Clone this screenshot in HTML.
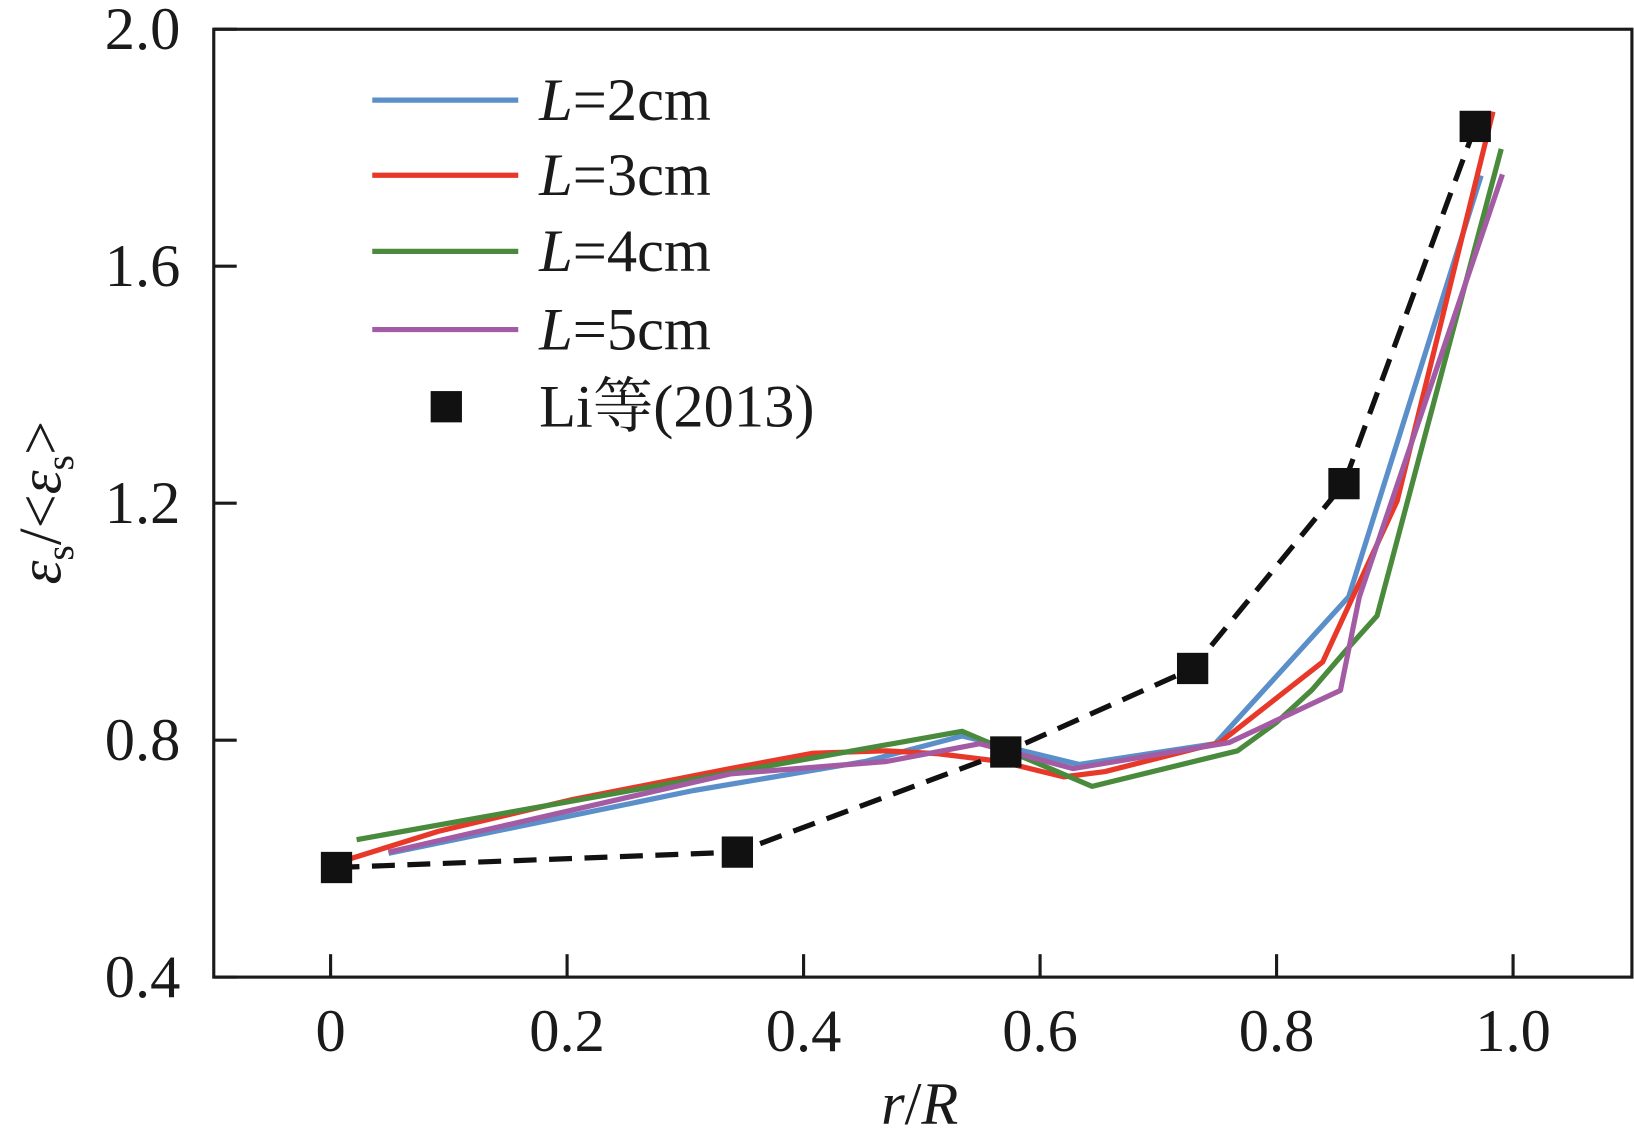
<!DOCTYPE html>
<html><head><meta charset="utf-8"><style>
html,body{margin:0;padding:0;background:#fff;}
svg{display:block;}
text{font-family:"Liberation Serif","Noto Serif CJK SC",serif;fill:#1a1a1a;}
</style></head><body>
<svg id="chart" width="1634" height="1144" viewBox="0 0 1567 1097">
<g id="plot"></g>
</svg>
<script>
const xTicks=[0,0.2,0.4,0.6,0.8,1.0];
const xTickLabels=["0","0.2","0.4","0.6","0.8","1.0"];
const yTicks=[0.4,0.8,1.2,1.6,2.0];
const yTickLabels=["0.4","0.8","1.2","1.6","2.0"];
const seriesNames=["L=2cm","L=3cm","L=4cm","L=5cm"];
const seriesColors=["#5b8fc9","#e8382a","#4a8a3c","#a35ca3"];
const l2x=[0.049,0.307,0.452,0.534,0.633,0.748,0.861,0.973];
const l2y=[0.609,0.715,0.764,0.807,0.759,0.794,1.042,1.753];
const l3x=[0.004,0.091,0.205,0.338,0.408,0.47,0.514,0.567,0.62,0.655,0.752,0.839,0.902,0.983];
const l3y=[0.592,0.646,0.70,0.752,0.778,0.782,0.777,0.764,0.738,0.747,0.796,0.932,1.204,1.861];
const l4x=[0.022,0.534,0.644,0.767,0.8,0.83,0.858,0.885,0.99];
const l4y=[0.632,0.815,0.722,0.782,0.83,0.885,0.95,1.01,1.798];
const l5x=[0.049,0.338,0.47,0.549,0.628,0.76,0.854,0.87,0.991];
const l5y=[0.611,0.743,0.764,0.794,0.752,0.796,0.884,1.042,1.755];
const liX=[0.005,0.344,0.571,0.729,0.857,0.968];
const liY=[0.585,0.611,0.780,0.921,1.233,1.836];

const NS="http://www.w3.org/2000/svg";
const g=document.getElementById('plot');
const L=205,R=1565,T=28,B=937;
const X0=-0.0988,X1=1.1005,Y0=0.4,Y1=2.0;
const sx=v=>L+(v-X0)/(X1-X0)*(R-L);
const sy=v=>B-(v-Y0)/(Y1-Y0)*(B-T);
function mk(tag,attrs){const e=document.createElementNS(NS,tag);for(const k in attrs)e.setAttribute(k,attrs[k]);g.appendChild(e);return e;}

const frame=mk('rect',{x:L,y:T,width:R-L,height:B-T,fill:'none',stroke:'#1a1a1a','stroke-width':3});


xTicks.forEach((v,i)=>{
  const t=mk('line',{x1:sx(v),x2:sx(v),y1:B,y2:B-22,stroke:'#1a1a1a','stroke-width':3});
  
  
  const tx=mk('text',{x:sx(v),y:1008,'font-size':58,'text-anchor':'middle'});
  tx.textContent=xTickLabels[i];
  
  
});
yTicks.forEach((v,i)=>{
  const t=mk('line',{x1:L,x2:L+22,y1:sy(v),y2:sy(v),stroke:'#1a1a1a','stroke-width':3});
  
  
  const tx=mk('text',{x:173,y:sy(v)+19,'font-size':58,'text-anchor':'end'});
  tx.textContent=yTickLabels[i];
  
  
});
const xl=mk('text',{x:882,y:1078,'font-size':58,'text-anchor':'middle'});
xl.innerHTML='<tspan font-style="italic">r</tspan>/<tspan font-style="italic">R</tspan>';


const yl=mk('text',{x:0,y:0,'font-size':58,'text-anchor':'middle',transform:'translate(58,482) rotate(-90)'});
yl.innerHTML='<tspan font-style="italic">ε</tspan><tspan font-size="38" dy="12">s</tspan><tspan dy="-12">/&lt;</tspan><tspan font-style="italic">ε</tspan><tspan font-size="38" dy="12">s</tspan><tspan dy="-12">&gt;</tspan>';



const xs=[l2x,l3x,l4x,l5x],ys=[l2y,l3y,l4y,l5y];
xs.forEach((arr,s)=>{
  const pts=arr.map((v,i)=>sx(v)+','+sy(ys[s][i])).join(' ');
  const p=mk('polyline',{points:pts,fill:'none',stroke:seriesColors[s],'stroke-width':5,'stroke-linejoin':'round'});
  
  
});
const dp=mk('polyline',{points:liX.map((v,i)=>sx(v)+','+sy(liY[i])).join(' '),fill:'none',stroke:'#111','stroke-width':5,'stroke-dasharray':'22,12'});


liX.forEach((v,i)=>{
  const r=mk('rect',{x:sx(v)-15,y:sy(liY[i])-15,width:30,height:30,fill:'#111'});
  
  
});
const legY=[96,168,241,316];
seriesNames.forEach((n,i)=>{
  const ln=mk('line',{x1:357,x2:497,y1:legY[i],y2:legY[i],stroke:seriesColors[i],'stroke-width':5});
  
  
  const t=mk('text',{x:517,y:legY[i]+19,'font-size':58});
  t.innerHTML='<tspan font-style="italic">L</tspan>'+n.slice(1);
  
  
});
const ls=mk('rect',{x:413,y:375,width:30,height:30,fill:'#111'});


const lt=mk('text',{x:517,y:409,'font-size':58});
lt.textContent='Li等(2013)';


</script>
</body></html>
